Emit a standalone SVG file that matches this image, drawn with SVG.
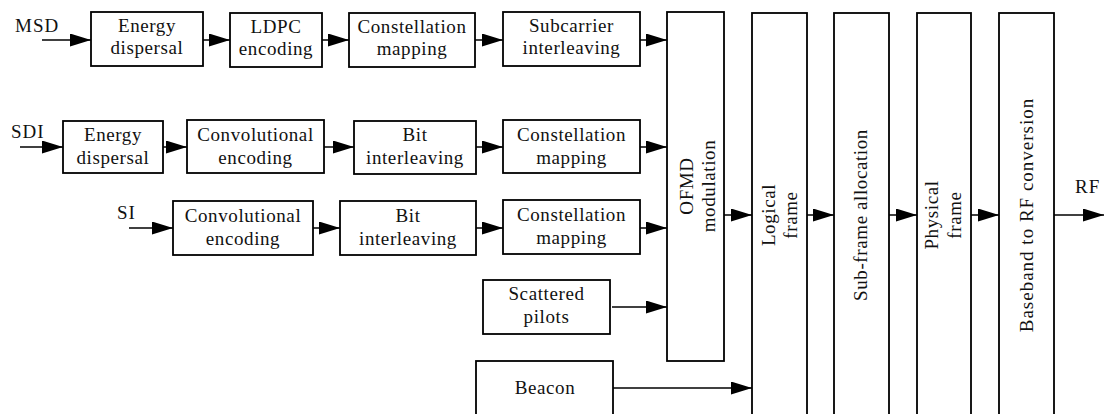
<svg xmlns="http://www.w3.org/2000/svg" width="1104" height="414" viewBox="0 0 1104 414">
<style>
.box{fill:#fff;stroke:#000;stroke-width:1.8}
.t{font-family:"Liberation Serif","Times New Roman",serif;font-size:19px;fill:#111;text-anchor:middle;letter-spacing:0.6px}
.l{font-family:"Liberation Serif","Times New Roman",serif;font-size:19px;fill:#111;letter-spacing:1px}
.c{fill:none;stroke:#000;stroke-width:1.5;marker-end:url(#ah)}
</style>
<defs>
<marker id="ah" markerUnits="userSpaceOnUse" markerWidth="22" markerHeight="14" refX="21" refY="6.5" orient="auto">
<path d="M0,0 L21,6.5 L0,13 Z" fill="#000"/>
</marker>
</defs>
<rect width="1104" height="414" fill="#fff"/>
<g id="labels">
<text class="l" x="15" y="32">MSD</text>
<text class="l" x="11" y="138">SDI</text>
<text class="l" x="117" y="219">SI</text>
<text class="l" x="1075" y="193">RF</text>
</g>
<g id="connectors">
<path class="c" d="M42,40 H91"/>
<path class="c" d="M203,40 H230"/>
<path class="c" d="M322,40 H349"/>
<path class="c" d="M475,40 H503"/>
<path class="c" d="M640,40 H667"/>
<path class="c" d="M20,147 H63"/>
<path class="c" d="M163,147 H187"/>
<path class="c" d="M324,147 H354"/>
<path class="c" d="M476,147 H503"/>
<path class="c" d="M640,147 H667"/>
<path class="c" d="M129,228 H173"/>
<path class="c" d="M313,228 H340"/>
<path class="c" d="M476,228 H503"/>
<path class="c" d="M640,228 H667"/>
<path class="c" d="M612,307 H667"/>
<path class="c" d="M613,388 H752"/>
<path class="c" d="M724,215 H752"/>
<path class="c" d="M807,215 H834"/>
<path class="c" d="M889,215 H917"/>
<path class="c" d="M971,215 H999"/>
<path class="c" d="M1054,215 H1104"/>
</g>
<g id="msd-energy"><rect class="box" x="91" y="12" width="112" height="54"/><text class="t" x="147" y="32">Energy</text><text class="t" x="147" y="54">dispersal</text></g>
<g id="msd-ldpc"><rect class="box" x="230" y="13" width="92" height="54"/><text class="t" x="276" y="33">LDPC</text><text class="t" x="276" y="55">encoding</text></g>
<g id="msd-const"><rect class="box" x="349" y="13" width="126" height="54"/><text class="t" x="412" y="33">Constellation</text><text class="t" x="412" y="55">mapping</text></g>
<g id="msd-subcarrier"><rect class="box" x="503" y="12" width="137" height="54"/><text class="t" x="571.5" y="32">Subcarrier</text><text class="t" x="571.5" y="54">interleaving</text></g>
<g id="sdi-energy"><rect class="box" x="63" y="121" width="100" height="52"/><text class="t" x="113" y="141">Energy</text><text class="t" x="113" y="164">dispersal</text></g>
<g id="sdi-conv"><rect class="box" x="187" y="120" width="137" height="53"/><text class="t" x="255.5" y="141">Convolutional</text><text class="t" x="255.5" y="164">encoding</text></g>
<g id="sdi-bit"><rect class="box" x="354" y="121" width="122" height="53"/><text class="t" x="415" y="141">Bit</text><text class="t" x="415" y="164">interleaving</text></g>
<g id="sdi-const"><rect class="box" x="503" y="120" width="137" height="53"/><text class="t" x="571.5" y="141">Constellation</text><text class="t" x="571.5" y="164">mapping</text></g>
<g id="si-conv"><rect class="box" x="173" y="201" width="140" height="54"/><text class="t" x="243" y="222">Convolutional</text><text class="t" x="243" y="245">encoding</text></g>
<g id="si-bit"><rect class="box" x="340" y="201" width="136" height="54"/><text class="t" x="408" y="222">Bit</text><text class="t" x="408" y="245">interleaving</text></g>
<g id="si-const"><rect class="box" x="503" y="200" width="137" height="54"/><text class="t" x="571.5" y="221">Constellation</text><text class="t" x="571.5" y="244">mapping</text></g>
<g id="scattered"><rect class="box" x="483" y="280" width="127" height="54"/><text class="t" x="546.5" y="300">Scattered</text><text class="t" x="546.5" y="323">pilots</text></g>
<g id="beacon"><rect class="box" x="476" y="361" width="137" height="60"/><text class="t" x="545" y="394">Beacon</text></g>
<g id="ofmd"><rect class="box" x="667" y="12" width="57" height="349"/><text class="t" transform="translate(695.5,186) rotate(-90)"><tspan x="0" y="-3">OFMD</tspan><tspan x="0" y="19">modulation</tspan></text></g>
<g id="logical"><rect class="box" x="752" y="13" width="55" height="410"/><text class="t" transform="translate(779.5,215) rotate(-90)"><tspan x="0" y="-4.5">Logical</tspan><tspan x="0" y="17.5">frame</tspan></text></g>
<g id="subframe"><rect class="box" x="834" y="13" width="55" height="410"/><text class="t" transform="translate(861.5,215) rotate(-90)" y="5.5">Sub-frame allocation</text></g>
<g id="physical"><rect class="box" x="917" y="13" width="54" height="410"/><text class="t" transform="translate(944,215) rotate(-90)"><tspan x="0" y="-6">Physical</tspan><tspan x="0" y="17">frame</tspan></text></g>
<g id="baseband"><rect class="box" x="999" y="13" width="55" height="410"/><text class="t" style="letter-spacing:1px" transform="translate(1026.5,215) rotate(-90)" y="6.5">Baseband to RF conversion</text></g>
</svg>
